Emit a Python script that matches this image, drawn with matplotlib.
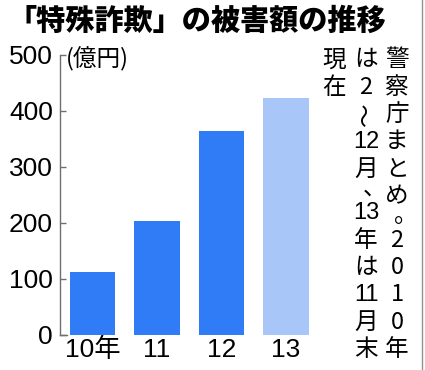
import matplotlib
matplotlib.use("Agg")
import matplotlib.pyplot as plt
from matplotlib.lines import Line2D

# data (億円)
years = ["10年", "11", "12", "13"]
damage = [112, 204, 364, 423]
colors = ["#2f7cf6", "#2f7cf6", "#2f7cf6", "#a9c6f8"]
yticks = [0, 100, 200, 300, 400, 500]

title = "「特殊詐欺」の被害額の推移"
unit = "(億円)"
note_cols = [
    ["警", "察", "庁", "ま", "と", "め", "。", "2", "0", "1", "0", "年"],
    ["は", "2", "～", "12", "月", "、", "13", "年", "は", "11", "月", "末"],
    ["現", "在"],
]

JP = ["Noto Sans CJK JP", "DejaVu Sans"]
NUM = ["Liberation Sans", "Noto Sans CJK JP", "DejaVu Sans"]

W, H = 425, 370
fig = plt.figure(figsize=(W / 100, H / 100), dpi=100)
fig.patch.set_facecolor("white")


def px(x, y):
    return x / W, 1 - y / H


# axes placed in pixel terms: x from 60 to 320, y 0 at 335, 500 at 55
ax = fig.add_axes([60 / W, 35 / H, 260 / W, 280 / H])
x = range(len(years))
ax.bar(x, damage, width=0.71, color=colors, zorder=2)
ax.set_xlim(-0.504, 3.527)
ax.set_ylim(0, 500)

for s in ["top", "right", "bottom"]:
    ax.spines[s].set_visible(False)
ax.spines["left"].set_color("#707070")
ax.spines["left"].set_linewidth(1.0)

ax.set_yticks(yticks)
ax.set_yticklabels([str(v) for v in yticks], family=NUM, fontsize=19)
ax.tick_params(axis="y", direction="in", length=4, width=1, color="#707070",
               pad=5, labelcolor="black")
ax.set_xticks(list(x))
ax.set_xticklabels(years, family=NUM, fontsize=19)
ax.tick_params(axis="x", length=0, pad=2)
# small corner at 0 towards the bars
ax.plot([-0.504, -0.39], [0, 0], color="#707070", lw=1, clip_on=False)

fig.text(*px(8, 21), title, family=JP, fontsize=21, fontweight="black",
         va="center", ha="left")
fig.text(*px(66, 59), unit, family=JP, fontsize=17, va="center", ha="left")

# vertical note
col_x = [397, 366, 334]
step = 27.3
for cx, tokens in zip(col_x, note_cols):
    cy = 60
    for t in tokens:
        if t in ("、", "。"):
            fig.text(*px(cx + 9, cy - 8), t, family=JP, fontsize=17,
                     ha="center", va="center")
            cy += step * 0.6
            continue
        rot = 90 if t == "～" else 0
        two = t.isdigit() and len(t) == 2
        fig.text(*px(cx, cy), t, family=NUM if two else JP,
                 fontsize=17 if two else 17, rotation=rot,
                 ha="center", va="center")
        cy += step

# right frame line
fig.add_artist(Line2D([422 / W, 422 / W], [0, 1], color="#909090", lw=1))

fig.savefig("out.png", dpi=100, facecolor="white")
